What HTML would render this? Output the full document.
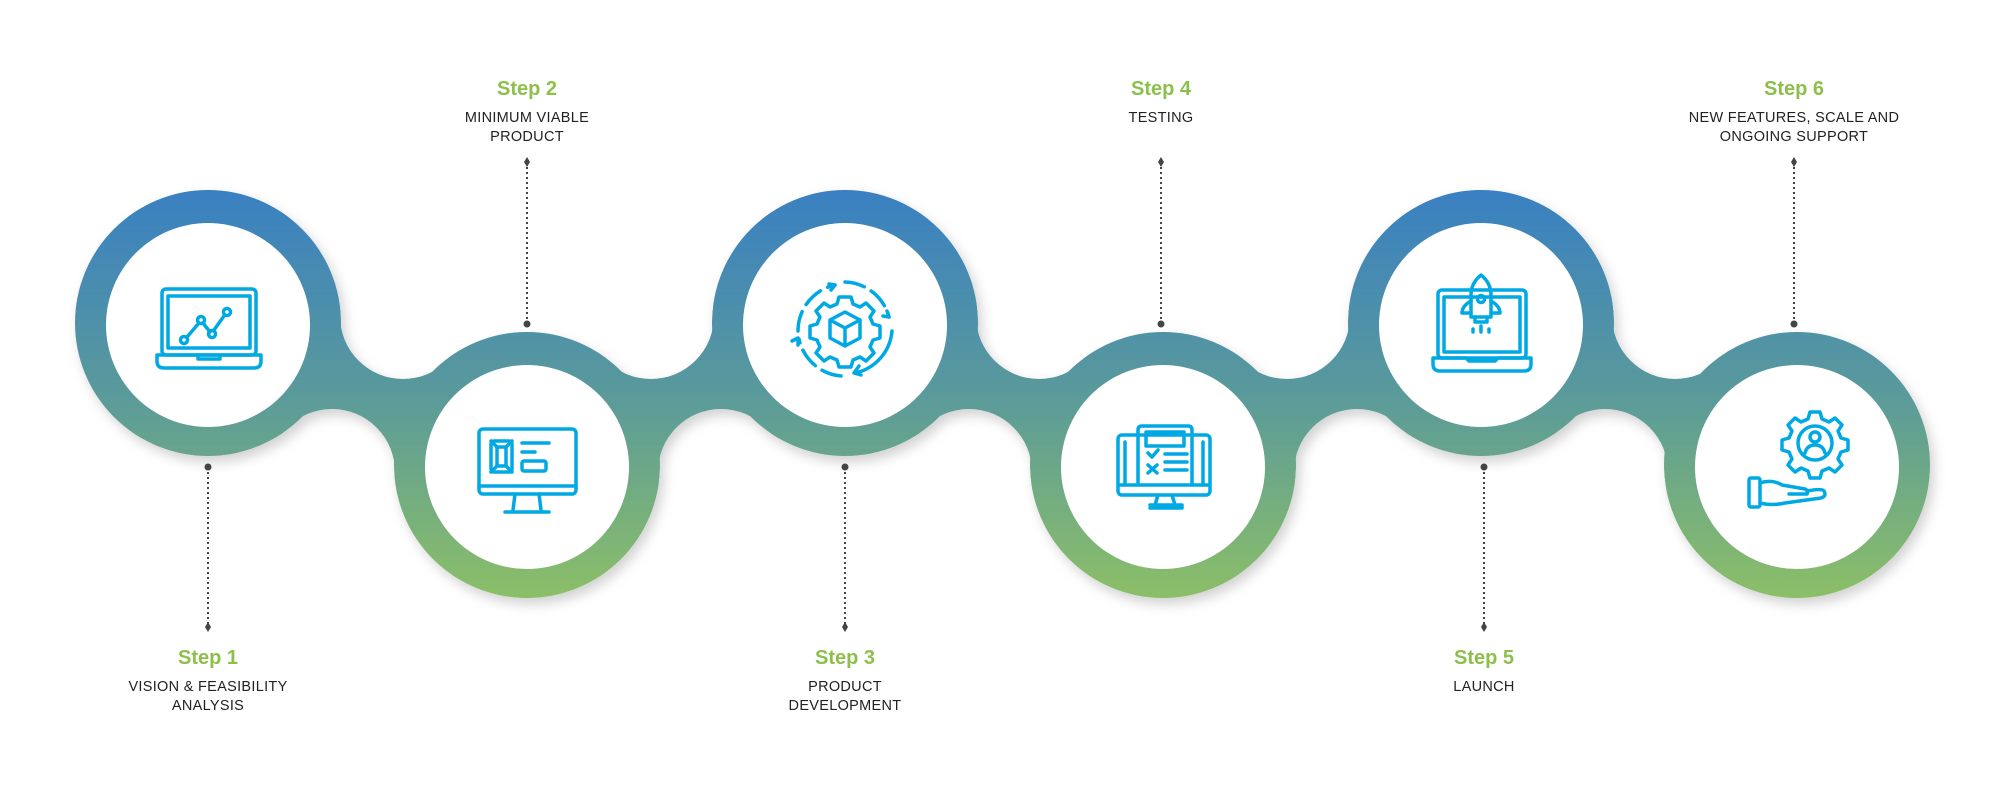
<!DOCTYPE html>
<html><head><meta charset="utf-8"><style>
html,body{margin:0;padding:0;background:#fff;}
svg{display:block;}
.h{font-family:"Liberation Sans",sans-serif;font-weight:bold;font-size:20px;fill:#8cc04b;text-anchor:middle;}
.t{font-family:"Liberation Sans",sans-serif;font-size:14.5px;fill:#222;text-anchor:middle;letter-spacing:0.3px;}
.ic{fill:none;stroke:#00a9e3;stroke-width:3.5;stroke-linecap:round;stroke-linejoin:round;}
.dl{stroke:#444;stroke-width:2;stroke-dasharray:2 3;}
</style></head><body>
<svg width="2006" height="791" viewBox="0 0 2006 791" xmlns="http://www.w3.org/2000/svg">
<defs>
<linearGradient id="g" gradientUnits="userSpaceOnUse" x1="0" y1="190" x2="0" y2="598">
<stop offset="0" stop-color="#3980c2"/><stop offset="0.5" stop-color="#5a9a9b"/><stop offset="1" stop-color="#8cbf67"/>
</linearGradient>
<filter id="sh" x="-20%" y="-20%" width="140%" height="140%"><feDropShadow dx="4" dy="6" stdDeviation="6" flood-color="#000" flood-opacity="0.18"/></filter>
<mask id="m" maskUnits="userSpaceOnUse" x="0" y="0" width="2006" height="791">
<rect x="0" y="0" width="2006" height="791" fill="#fff"/>
<g fill="#000">
<circle cx="403" cy="316" r="63"/><circle cx="332" cy="472" r="63"/>
<circle cx="651" cy="316" r="63"/><circle cx="721" cy="472" r="63"/>
<circle cx="1039" cy="316" r="63"/><circle cx="969" cy="472" r="63"/>
<circle cx="1287" cy="316" r="63"/><circle cx="1357" cy="472" r="63"/>
<circle cx="1675" cy="316" r="63"/><circle cx="1605" cy="472" r="63"/>
</g>
<g fill="#fff">
<circle cx="208" cy="323" r="133"/><circle cx="527" cy="465" r="133"/>
<circle cx="845" cy="323" r="133"/><circle cx="1163" cy="465" r="133"/>
<circle cx="1481" cy="323" r="133"/><circle cx="1797" cy="465" r="133"/>
</g>
</mask>
</defs>
<g filter="url(#sh)">
<g mask="url(#m)" fill="url(#g)">
<polygon points="208,323 403,316 527,465 332,472"/>
<polygon points="527,465 651,316 845,323 721,472"/>
<polygon points="845,323 1039,316 1163,465 969,472"/>
<polygon points="1163,465 1287,316 1481,323 1357,472"/>
<polygon points="1481,323 1675,316 1797,465 1605,472"/>
<circle cx="208" cy="323" r="133"/><circle cx="527" cy="465" r="133"/>
<circle cx="845" cy="323" r="133"/><circle cx="1163" cy="465" r="133"/>
<circle cx="1481" cy="323" r="133"/><circle cx="1797" cy="465" r="133"/>
</g>
</g>
<g fill="#fff">
<circle cx="208" cy="325" r="102"/><circle cx="527" cy="467" r="102"/>
<circle cx="845" cy="325" r="102"/><circle cx="1163" cy="467" r="102"/>
<circle cx="1481" cy="325" r="102"/><circle cx="1797" cy="467" r="102"/>
</g>
<!-- dotted lines -->
<g>
<line class="dl" x1="208" y1="467" x2="208" y2="627"/><line class="dl" x1="527" y1="162" x2="527" y2="324"/>
<line class="dl" x1="845" y1="467" x2="845" y2="627"/><line class="dl" x1="1161" y1="162" x2="1161" y2="324"/>
<line class="dl" x1="1484" y1="467" x2="1484" y2="627"/><line class="dl" x1="1794" y1="162" x2="1794" y2="324"/>
<g fill="#444">
<circle cx="208" cy="467" r="3.5"/><circle cx="527" cy="324" r="3.5"/><circle cx="845" cy="467" r="3.5"/>
<circle cx="1161" cy="324" r="3.5"/><circle cx="1484" cy="467" r="3.5"/><circle cx="1794" cy="324" r="3.5"/>
<path d="M208,622 l3,5 l-3,5 l-3,-5z"/><path d="M527,157 l3,5 l-3,5 l-3,-5z"/><path d="M845,622 l3,5 l-3,5 l-3,-5z"/>
<path d="M1161,157 l3,5 l-3,5 l-3,-5z"/><path d="M1484,622 l3,5 l-3,5 l-3,-5z"/><path d="M1794,157 l3,5 l-3,5 l-3,-5z"/>
</g></g>
<!-- text -->
<text class="h" x="208" y="664">Step 1</text>
<text class="t" x="208" y="691">VISION &amp; FEASIBILITY</text><text class="t" x="208" y="710">ANALYSIS</text>
<text class="h" x="527" y="95">Step 2</text>
<text class="t" x="527" y="122">MINIMUM VIABLE</text><text class="t" x="527" y="141">PRODUCT</text>
<text class="h" x="845" y="664">Step 3</text>
<text class="t" x="845" y="691">PRODUCT</text><text class="t" x="845" y="710">DEVELOPMENT</text>
<text class="h" x="1161" y="95">Step 4</text>
<text class="t" x="1161" y="122">TESTING</text>
<text class="h" x="1484" y="664">Step 5</text>
<text class="t" x="1484" y="691">LAUNCH</text>
<text class="h" x="1794" y="95">Step 6</text>
<text class="t" x="1794" y="122">NEW FEATURES, SCALE AND</text><text class="t" x="1794" y="141">ONGOING SUPPORT</text>
<!-- icons -->
<g class="ic" transform="translate(208,328)">
<rect x="-46" y="-39" width="94" height="66" rx="4"/><rect x="-40" y="-32" width="82" height="52"/>
<path d="M-51,27 H53 V33 Q53,40 46,40 H-44 Q-51,40 -51,33Z"/><path d="M-10,27 v4 h22 v-4"/>
<path d="M-21,9 L-9,-5 M-5,-5 L2,4 M6,2 L16,-12"/>
<circle cx="-24" cy="12" r="3.5"/><circle cx="-7" cy="-8" r="3.5"/><circle cx="4" cy="6" r="3.5"/><circle cx="19" cy="-16" r="3.5"/>
</g>
<g class="ic" transform="translate(527,470)">
<rect x="-48" y="-41" width="97" height="65" rx="4"/><line x1="-48" y1="16" x2="49" y2="16"/>
<path d="M-12,24 l-2,16 M12,24 l2,16 M-22,42 H22"/>
<rect x="-36" y="-29" width="21" height="31" rx="3"/><rect x="-30" y="-23" width="9" height="19"/>
<path d="M-36,-29 l6,6 M-15,-29 l-6,6 M-36,2 l6,-6 M-15,2 l-6,-6"/>
<path d="M-5,-27 H22 M-5,-18 H8"/><rect x="-5" y="-9" width="24" height="10" rx="2"/>
</g>
<g class="ic" transform="translate(845,329)">
<path d="M-47,2 A47,47 0 0 1 -10,-44" stroke-dasharray="20 8"/><path d="M-16,-45 l6,1 l-4,5"/>
<path d="M0,-47 A47,47 0 0 1 44,-12" stroke-dasharray="20 8"/><path d="M42,-18 l2,6 l-6,-1"/>
<path d="M47,2 A47,47 0 0 1 10,44"/><path d="M14,37 l-5,7 l7,2"/>
<path d="M-4,47 A47,47 0 0 1 -46,10" stroke-dasharray="20 8"/><path d="M-47,16 l0,-7 l-6,3"/>
<path d="M-6,-32 h12 l2,7 l7,3 l6,-4 l8,8 l-4,6 l3,7 l7,2 v12 l-7,2 l-3,7 l4,6 l-8,8 l-6,-4 l-7,3 l-2,7 h-12 l-2,-7 l-7,-3 l-6,4 l-8,-8 l4,-6 l-3,-7 l-7,-2 v-12 l7,-2 l3,-7 l-4,-6 l8,-8 l6,4 l7,-3z"/>
<path d="M0,-17 L15,-9 V9 L0,17 L-15,9 V-9Z M-15,-9 L0,-1 L15,-9 M0,-1 V17"/>
</g>
<g class="ic" transform="translate(1163,470)">
<rect x="-45" y="-35" width="92" height="60" rx="4"/><line x1="-45" y1="15" x2="47" y2="15"/>
<path d="M-5,25 l-3,10 h20 l-3,-10 M-13,38 H19 M-13,35 h32 v3"/>
<path d="M-25,15 V-40 Q-25,-44 -21,-44 H25 Q29,-44 29,-40 V15"/><path d="M-38,15 V-28 M40,15 V-28"/>
<rect x="-17" y="-38" width="38" height="14"/>
<path d="M-15,-17 l4,4 l6,-7 M-15,-5 l9,8 M-6,-5 l-9,8"/>
<path d="M2,-16 H24 M2,-8 H24 M2,0 H24"/>
</g>
<g class="ic" transform="translate(1481,331)">
<rect x="-43" y="-41" width="88" height="68" rx="4"/><rect x="-37" y="-34" width="76" height="55"/>
<path d="M-48,27 H-15 l3,3 h26 l3,-3 H50 V33 Q50,40 43,40 H-41 Q-48,40 -48,33Z"/>
<path d="M0,-56 Q10,-48 10,-36 V-14 H-10 V-36 Q-10,-48 0,-56Z"/><circle cx="0" cy="-32" r="3.5"/>
<path d="M-10,-30 Q-19,-25 -19,-18 h9 M10,-30 Q19,-25 19,-18 h-9 M-6,-14 v5 h12 v-5"/>
<path d="M-8,-2 v3 M0,-5 v6 M8,-2 v3"/>
</g>
<g class="ic" transform="translate(1797,467)">
<path d="M13,-55 h10 l2,7 l7,3 l6,-4 l7,7 l-4,6 l3,7 l7,2 v10 l-7,2 l-3,7 l4,6 l-7,7 l-6,-4 l-7,3 l-2,7 h-10 l-2,-7 l-7,-3 l-6,4 l-7,-7 l4,-6 l-3,-7 l-7,-2 v-10 l7,-2 l3,-7 l-4,-6 l7,-7 l6,4 l7,-3z"/>
<circle cx="18" cy="-24" r="17"/><circle cx="18" cy="-30" r="5"/><path d="M8,-14 Q10,-22 18,-22 Q26,-22 28,-14"/>
<rect x="-48" y="11" width="11" height="29" rx="2"/>
<path d="M-37,16 Q-25,12 -15,18 L8,22 Q12,24 10,27 L-8,27 M-37,36 Q-25,39 -12,36 L24,31 Q30,29 27,24 Q25,21 10,24"/>
</g>
</svg>
</body></html>
